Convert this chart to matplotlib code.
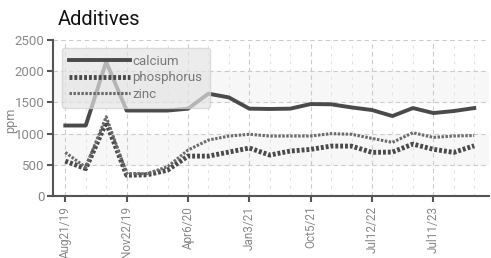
import matplotlib.pyplot as plt
import numpy as np

tick_labels = ['Aug21/19', 'Nov22/19', 'Apr6/20', 'Jan3/21', 'Oct5/21', 'Jul12/22', 'Jul11/23']
calcium = [1130, 1130, 2150, 1370, 1370, 1370, 1400, 1640, 1580, 1400, 1395,
           1400, 1474, 1470, 1420, 1378, 1282, 1410, 1330, 1362, 1410]
phosphorus = [560, 440, 1180, 335, 340, 415, 640, 640, 705, 770, 657,
              721, 748, 801, 800, 700, 705, 833, 749, 700, 806]
zinc = [700, 460, 1270, 360, 360, 470, 737, 897, 961, 990, 961,
        962, 962, 1000, 990, 924, 860, 1015, 940, 962, 970]

plt.rcParams['font.family'] = ['Roboto', 'DejaVu Sans']
x = np.arange(len(calcium))

fig = plt.figure(figsize=(4.91, 2.58), dpi=100)
ax = fig.add_axes([0.108, 0.24, 0.887, 0.605])

# alternating bands
for lo in (500, 1500):
    ax.axhspan(lo, lo + 500, color='#f7f7f7', zorder=0)

ax.plot(x, calcium, color='#c8c8c8', lw=1.2, zorder=2)
ax.plot(x, calcium, color='#4a4a4a', lw=2.8, label='calcium', zorder=3)
ax.plot(x, phosphorus, color='#4a4a4a', lw=3.5, ls=(0, (0.6, 0.4)), label='phosphorus', zorder=3)
ax.plot(x, zinc, color='#6a6a6a', lw=2.2, ls=(0, (0.8, 0.5)), label='zinc', zorder=3)

ax.set_xlim(-0.6, 20.7)
ax.set_ylim(0, 2500)
ax.set_yticks(np.arange(0, 2501, 500))
ax.set_xticks(x[::3])
ax.set_xticklabels(tick_labels, rotation=90)
ax.set_xticks(x, minor=True)
ax.grid(True, which='major', color='#cccccc', ls=(0, (4, 3)), lw=0.8)
ax.grid(True, which='minor', axis='x', color='#e2e2e2', ls=(0, (3, 5)), lw=0.7)
ax.set_axisbelow(True)

for s in ('top', 'right'):
    ax.spines[s].set_visible(False)
for s in ('left', 'bottom'):
    ax.spines[s].set_color('#555555')
    ax.spines[s].set_linewidth(1.5)
ax.tick_params(axis='both', colors='#555555', labelcolor='#888888', width=1.5, length=4)
ax.tick_params(axis='y', labelsize=9.5, pad=2)
ax.tick_params(axis='x', labelsize=8.5, pad=3)
ax.tick_params(axis='x', which='minor', length=0)
fig.text(0.022, 0.535, 'ppm', color='#888888', fontsize=9, rotation=90, ha='center', va='center')

leg = ax.legend(loc='upper left', bbox_to_anchor=(0.02, 0.95), handlelength=4.6, fontsize=9.5,
                frameon=True, fancybox=True, framealpha=0.7, borderpad=0.55,
                labelspacing=0.25, handletextpad=0.2, borderaxespad=0)
leg.get_frame().set_facecolor('#e4e4e4')
leg.get_frame().set_edgecolor('#d0d0d0')
for t in leg.get_texts():
    t.set_color('#777777')

fig.text(0.118, 0.903, 'Additives', fontsize=14.5, color='#111111', va='baseline')

fig.savefig('out.png', dpi=100)
